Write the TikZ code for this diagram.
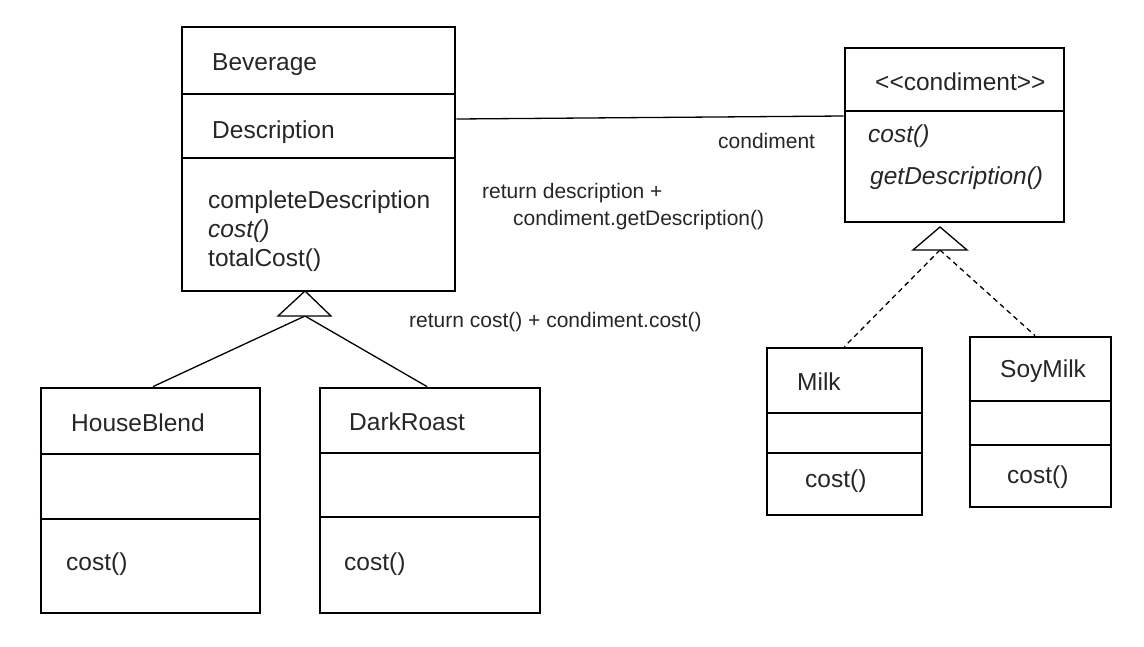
\documentclass[tikz,border=0pt]{standalone}
\usepackage{fontspec}
\setmainfont{Liberation Sans}
\usetikzlibrary{positioning}
\newcommand{\membersize}{\fontsize{24.5}{29}\selectfont}
\newcommand{\notesize}{\fontsize{21}{27}\selectfont}
\tikzstyle{classbox} = [draw, rectangle, line width=2.8pt, inner sep=0pt]
\tikzstyle{divider} = [line width=1.3pt]
\tikzstyle{member} = [anchor=base west, inner sep=0pt, font=\membersize, text=black!85]
\tikzstyle{note} = [anchor=base west, inner sep=0pt, font=\notesize, text=black!85]
\tikzstyle{gentri} = [line width=1.3pt, fill=white]
\tikzstyle{link} = [line width=1.3pt]
\tikzstyle{realize} = [line width=1.3pt, dash pattern=on 5pt off 4pt]

\begin{document}
\begin{tikzpicture}[x=1pt, y=-1pt]
	\useasboundingbox (0,0) rectangle (1144,646);

	\node[classbox, minimum width=273pt, minimum height=264pt] (beverage) at (318.5,159) {};
	\draw[divider] (beverage.west |- 0,94) -- (beverage.east |- 0,94);
	\draw[divider] (beverage.west |- 0,158) -- (beverage.east |- 0,158);
	\node[member] (bevname) at (212,70) {Beverage};
	\node[member] (bevattr) at (212,138) {Description};
	\node[member] (bevop1) at (208,208) {completeDescription};
	\node[member] (bevop2) at (208,237) {\itshape cost()};
	\node[member] (bevop3) at (208,266) {totalCost()};

	\node[classbox, minimum width=219pt, minimum height=225pt] (houseblend) at (150.5,500.5) {};
	\draw[divider] (houseblend.west |- 0,454) -- (houseblend.east |- 0,454);
	\draw[divider] (houseblend.west |- 0,519) -- (houseblend.east |- 0,519);
	\node[member] (hbname) at (71,431) {HouseBlend};
	\node[member] (hbop) at (66,570) {cost()};

	\node[classbox, minimum width=220pt, minimum height=225pt] (darkroast) at (430,500.5) {};
	\draw[divider] (darkroast.west |- 0,453) -- (darkroast.east |- 0,453);
	\draw[divider] (darkroast.west |- 0,517) -- (darkroast.east |- 0,517);
	\node[member] (drname) at (349,430) {DarkRoast};
	\node[member] (drop) at (344,570) {cost()};

	\node[classbox, minimum width=219pt, minimum height=174pt] (condiment) at (954.5,135) {};
	\draw[divider] (condiment.west |- 0,111) -- (condiment.east |- 0,111);
	\node[member] (condname) at (875,90) {<\kern0pt<condiment>\kern0pt>};
	\node[member] (condop1) at (868,142) {\itshape cost()};
	\node[member] (condop2) at (870,184) {\itshape getDescription()};

	\node[classbox, minimum width=155pt, minimum height=167pt] (milk) at (844.5,431.5) {};
	\draw[divider] (milk.west |- 0,413) -- (milk.east |- 0,413);
	\draw[divider] (milk.west |- 0,453) -- (milk.east |- 0,453);
	\node[member] (milkname) at (797,390) {Milk};
	\node[member] (milkop) at (805,487) {cost()};

	\node[classbox, minimum width=141pt, minimum height=170pt] (soymilk) at (1040.5,422) {};
	\draw[divider] (soymilk.west |- 0,401) -- (soymilk.east |- 0,401);
	\draw[divider] (soymilk.west |- 0,445) -- (soymilk.east |- 0,445);
	\node[member] (soyname) at (1000,377) {SoyMilk};
	\node[member] (soyop) at (1007,483) {cost()};

	\coordinate (bevbase) at (305,316);
	\coordinate (condbase) at (940,250);
	\draw[link] (bevbase) -- (houseblend.north -| 153,0);
	\draw[link] (bevbase) -- (darkroast.north -| 427,0);
	\draw[gentri] (305,291) -- (278,316) -- (331,316) -- cycle;
	\draw[realize] (condbase) -- (milk.north);
	\draw[realize] (condbase) -- (soymilk.north -| 1035,0);
	\draw[gentri] (940,227) -- (913,250) -- (967,250) -- cycle;

	\draw[link] (beverage.east |- 0,119) -- (condiment.west |- 0,116);
	\node[note] (rolename) at (718,148) {condiment};
	\node[note] (descnote1) at (482,198) {return description +};
	\node[note] (descnote2) at (513,225) {condiment.getDescription()};
	\node[note] (costnote) at (409,327) {return cost() + condiment.cost()};
\end{tikzpicture}
\end{document}
